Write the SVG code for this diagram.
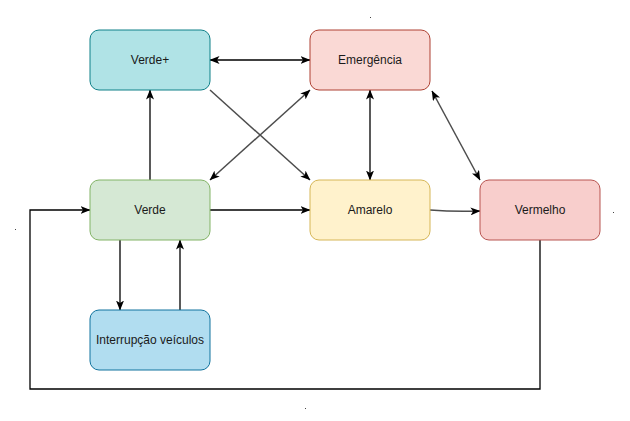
<svg xmlns="http://www.w3.org/2000/svg" width="630" height="421" viewBox="0 0 630 421">
<style>
.n rect{stroke-width:1}
.n text{font-family:"Liberation Sans",Arial,sans-serif;font-size:12px;fill:#1a1a1a;text-anchor:middle;dominant-baseline:central}
.c path{fill:none;stroke:#000;stroke-width:1.3}
.c path.g{stroke:#4d4d4d;stroke-width:1.5}
.dot{fill:#444}
</style>
<defs>
<marker id="ah" viewBox="0 0 10 8" refX="9.5" refY="4" markerWidth="10" markerHeight="8" markerUnits="userSpaceOnUse" orient="auto-start-reverse">
<path d="M0,0 L10,4 L0,8 L2.5,4 Z" fill="#000"/>
</marker>
</defs>
<rect width="630" height="421" fill="#fff"/>
<g class="c">
<path d="M210,60 H310" marker-start="url(#ah)" marker-end="url(#ah)"/>
<path class="g" d="M210,90 L310,180" marker-end="url(#ah)"/>
<path class="g" d="M310,90 L210,180" marker-start="url(#ah)" marker-end="url(#ah)"/>
<path d="M370,90 V180" marker-start="url(#ah)" marker-end="url(#ah)"/>
<path class="g" d="M432,91 L480,180" marker-start="url(#ah)" marker-end="url(#ah)"/>
<path d="M150,180 V90" marker-end="url(#ah)"/>
<path d="M210,210 H310" marker-end="url(#ah)"/>
<path class="g" d="M430,210 Q455,212 480,211" marker-end="url(#ah)"/>
<path d="M120,240 V310" marker-end="url(#ah)"/>
<path d="M180,310 V240" marker-end="url(#ah)"/>
<path d="M540,240 V389 H30 V210 H90" marker-end="url(#ah)"/>
</g>
<g id="verde-plus" class="n"><rect x="90" y="30" width="120" height="60" rx="9" fill="#b0e3e6" stroke="#0e8088"/><text x="150" y="60">Verde+</text></g>
<g id="emergencia" class="n"><rect x="310" y="30" width="120" height="60" rx="9" fill="#fad9d5" stroke="#ae4132"/><text x="370" y="60">Emergência</text></g>
<g id="verde" class="n"><rect x="90" y="180" width="120" height="60" rx="9" fill="#d5e8d4" stroke="#82b366"/><text x="150" y="210">Verde</text></g>
<g id="amarelo" class="n"><rect x="310" y="180" width="120" height="60" rx="9" fill="#fff2cc" stroke="#d6b656"/><text x="370" y="210">Amarelo</text></g>
<g id="vermelho" class="n"><rect x="480" y="180" width="120" height="60" rx="9" fill="#f8cecc" stroke="#b85450"/><text x="540" y="210">Vermelho</text></g>
<g id="interrupcao" class="n"><rect x="90" y="310" width="120" height="60" rx="9" fill="#b1ddf0" stroke="#10739e"/><text x="150" y="340">Interrupção veículos</text></g>
<g id="dots">
<rect class="dot" x="370" y="17" width="1" height="1"/>
<rect class="dot" x="15" y="229" width="1" height="1"/>
<rect class="dot" x="613" y="212" width="1" height="1"/>
<rect class="dot" x="305" y="408" width="1" height="1"/>
</g>
</svg>
